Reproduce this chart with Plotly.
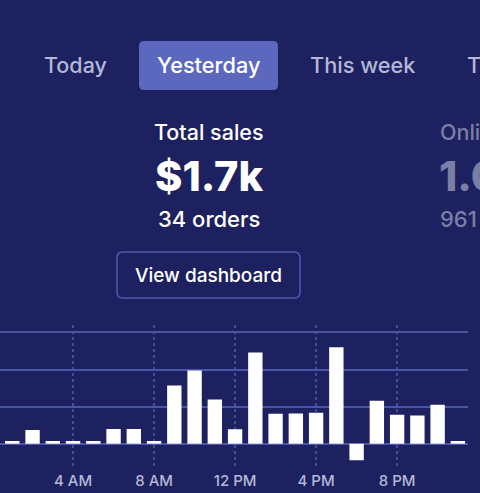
import plotly.graph_objects as go

W = 480
H = 493

hours = list(range(1, 24))
sales = [8, 37, 8, 8, 8, 40, 40, 8, 157, 197, 119, 39, 246, 81, 82, 84, 260, -44, 116, 78, 76, 105, 8]
tick_hours = [4, 8, 12, 16, 20]
tick_labels = ["4 AM", "8 AM", "12 PM", "4 PM", "8 PM"]
grid_values = [-60, 0, 100, 200, 300]

BG = "#1d2160"
GRID = "#4a55a8"
FONT = "Inter"


def px_x(x):
    return x / W


def px_y(y):
    return 1 - y / H


def rounded_rect(x0, y0, x1, y1, r):
    # page pixels to paper coords, y flipped
    a, b = px_x(x0), px_y(y0)
    c, d = px_x(x1), px_y(y1)
    rx, ry = r / W, r / H
    return (f"M{a + rx},{b} L{c - rx},{b} Q{c},{b} {c},{b - ry} L{c},{d + ry} Q{c},{d} {c - rx},{d} "
            f"L{a + rx},{d} Q{a},{d} {a},{d + ry} L{a},{b - ry} Q{a},{b} {a + rx},{b} Z")


def label(text, x, y, size, color, anchor="center", weight=400):
    return dict(text=text, x=px_x(x), y=px_y(y), xref="paper", yref="paper",
                xanchor=anchor, yanchor="middle", showarrow=False,
                font=dict(family=FONT, size=size, color=color, weight=weight))


fig = go.Figure(go.Bar(x=hours, y=sales, width=0.71, marker_color="#ffffff",
                       marker_line_width=0, hoverinfo="skip"))

fig.update_layout(
    width=W, height=H, margin=dict(l=0, r=0, t=0, b=0),
    paper_bgcolor=BG, plot_bgcolor=BG, showlegend=False,
    font=dict(family=FONT),
    shapes=[
        dict(type="path", path=rounded_rect(139, 41, 278, 90, 5), xref="paper", yref="paper",
             fillcolor="#5c68bd", line_width=0),
        dict(type="path", path=rounded_rect(117, 252, 300, 298, 6), xref="paper", yref="paper",
             fillcolor=BG, line=dict(color="#4f5ab0", width=1.5)),
    ],
    annotations=[
        label("Today", 75, 65, 21.5, "#b4b8d6", weight=500),
        label("Yesterday", 208.5, 65, 21.7, "#ffffff", weight=500),
        label("This week", 362.5, 65, 21.7, "#b4b8d6", weight=500),
        label("This month", 465, 65, 21.7, "#b4b8d6", "left", 500),
        label("Total sales", 209, 132, 21.5, "#ffffff", weight=500),
        label("$1.7k", 209, 176, 41.5, "#ffffff", weight=800),
        label("34 orders", 209, 219, 22, "#ffffff", weight=500),
        label("View dashboard", 208.5, 275, 19, "#ffffff", weight=500),
        label("Online store", 437.5, 132, 21.5, "#7a7fa6", "left", 500),
        label("1.0k", 437, 176, 41.5, "#7a7fa6", "left", 800),
        label("961 visits", 437.5, 219, 22, "#7a7fa6", "left", 500),
    ],
)

fig.update_xaxes(domain=[0, 468 / W], range=[0.393, 23.5], tickmode="array",
                 tickvals=tick_hours, ticktext=tick_labels, ticks="", showline=False,
                 showgrid=True, gridcolor="#414c9c", gridwidth=1.5, griddash="3px,3px",
                 ticklabelstandoff=3,
                 zeroline=False, tickfont=dict(family=FONT, size=15, color="#b4b8d6", weight=500))
fig.update_yaxes(domain=[1 - 466.7 / H, 1 - 324.7 / H], range=[-61.4, 320.5], tickmode="array",
                 tickvals=grid_values, showticklabels=False, ticks="", showline=False,
                 showgrid=True, gridcolor=GRID, gridwidth=1.5, zeroline=False)

fig.write_html("out.html", config={"displayModeBar": False},
               post_script="document.body.style.margin='0';")
